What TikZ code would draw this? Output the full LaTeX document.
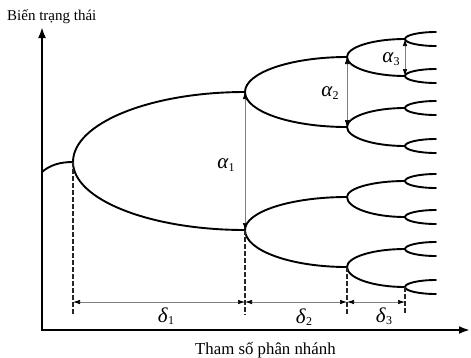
\documentclass[tikz,border=0pt]{standalone}
\usepackage{fontspec}
\setmainfont{Liberation Serif}
\usetikzlibrary{arrows.meta,calc}
\newcommand\gsym[2]{{\fontsize{21}{21}\selectfont\itshape #1}\kern0.3pt\raisebox{-0.5ex}{\fontsize{12}{12}\selectfont #2}}
\newcommand\branch[2]{\draw[curve] (#1) .. controls ($(#1)!0.552!(#1|-#2)$) and ($(#2)!0.552!(#1|-#2)$) .. (#2);}
\begin{document}
\begin{tikzpicture}[x=1pt,y=-1pt,
  curve/.style={line width=1.9pt,line cap=round},
  axis/.style={line width=2.3pt,{Latex[length=11pt,width=8pt]}-{Latex[length=11pt,width=8pt]}},
  dim/.style={gray,line width=0.7pt,{Latex[black,length=7pt,width=4.5pt]}-{Latex[black,length=7pt,width=4.5pt]}},
  guide/.style={dash pattern=on 4.5pt off 2.5pt,line width=1.3pt,black!85},
  lab/.style={inner sep=0pt},
  txt/.style={inner sep=0pt,font=\fontsize{15}{15}\selectfont}]
\useasboundingbox (0,0) rectangle (471,357);
% axes
\coordinate (O) at (42,330);
\coordinate (Ytip) at (42,27);
\coordinate (Xtip) at (470,330);
\draw[axis] (Ytip) -- (O) -- (Xtip);
\node[txt,anchor=base west] (ylab) at (7,20) {Biến trạng thái};
\node[txt,anchor=base west,font=\fontsize{16.8}{17}\selectfont] (xlab) at (195,354) {Tham số phân nhánh};
% bifurcation points
\coordinate (S) at (42,172);
\coordinate (B) at (73,162);
\coordinate (U) at (245,92);
\coordinate (L) at (245,230);
\coordinate (UU) at (347,57);
\coordinate (UL) at (347,127);
\coordinate (LU) at (347,197);
\coordinate (LL) at (347,267);
\coordinate (UUU) at (405,39);
\coordinate (UUL) at (405,76);
\coordinate (ULU) at (405,108);
\coordinate (ULL) at (405,146);
\coordinate (LUU) at (405,181);
\coordinate (LUL) at (405,217);
\coordinate (LLU) at (405,249);
\coordinate (LLL) at (405,287);
% stem
\draw[curve] (S) .. controls (50,165) and (60,162) .. (B);
% branches
\foreach \p/\q in {B/U,B/L,U/UU,U/UL,L/LU,L/LL,UU/UUU,UU/UUL,UL/ULU,UL/ULL,LU/LUU,LU/LUL,LL/LLU,LL/LLL}{\branch{\p}{\q}}
\foreach \p in {UUU,UUL,ULU,ULL,LUU,LUL,LLU,LLL}{
  \coordinate (\p a) at ($(\p)+(31,-7)$);
  \coordinate (\p b) at ($(\p)+(31,7)$);
  \branch{\p}{\p a}
  \branch{\p}{\p b}
}
% alpha dimensions
\draw[dim] (U) -- (L);
\draw[dim] (UU) -- (UL);
\draw[dim] (UUU) -- (UUL);
\node[lab] (a1) at (226,165) {\gsym{α}{1}};
\node[lab] (a2) at (330,93) {\gsym{α}{2}};
\node[lab] (a3) at (391,59) {\gsym{α}{3}};
% guides
\coordinate (gb) at (0,315);
\coordinate (dy) at (0,302);
\draw[guide] (B) -- (B|-gb);
\draw[guide] (L) -- (L|-gb);
\draw[guide] (LL) -- (LL|-gb);
\draw[guide] (LLL) -- (LLL|-gb);
\draw[dim] (B|-dy) -- (L|-dy);
\draw[dim] (L|-dy) -- (LL|-dy);
\draw[dim] (LL|-dy) -- (LLL|-dy);
\node[lab] (d1) at (166,316) {\gsym{δ}{1}};
\node[lab] (d2) at (304,317) {\gsym{δ}{2}};
\node[lab] (d3) at (384,316) {\gsym{δ}{3}};
\end{tikzpicture}
\end{document}
